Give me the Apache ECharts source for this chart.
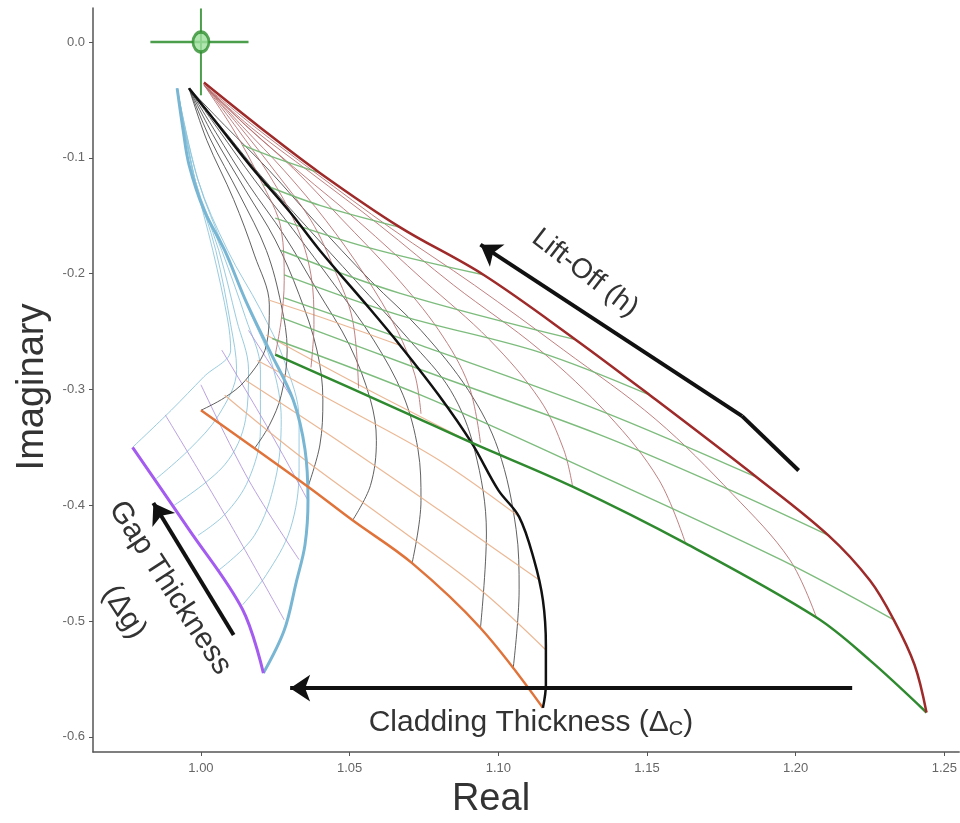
<!DOCTYPE html>
<html>
<head>
<meta charset="utf-8">
<script src="https://cdn.jsdelivr.net/npm/echarts@6/dist/echarts.min.js"></script>
<style>
  html, body { margin: 0; padding: 0; background: #fff; }
  #main { width: 960px; height: 823px; }
</style>
</head>
<body>
<div id="main"></div>
<script>
// tick positions
var xTicks = [1.00, 1.05, 1.10, 1.15, 1.20, 1.25];
var yTicks = [0.0, -0.1, -0.2, -0.3, -0.4, -0.5, -0.6];

// --- lift-off / cladding grid (red + green) ---
var redOuter = [[1.001,-0.035],[1.020,-0.074],[1.040,-0.113],[1.067,-0.160],[1.095,-0.201],[1.126,-0.257],[1.151,-0.305],[1.187,-0.376],[1.211,-0.426],[1.225,-0.465],[1.233,-0.499],[1.240,-0.538],[1.244,-0.579]];
var greenThick = [[1.025,-0.270],[1.067,-0.318],[1.091,-0.346],[1.125,-0.384],[1.163,-0.433],[1.207,-0.497],[1.225,-0.534],[1.244,-0.579]];
var redArcs = [
  [[1.001,-0.037],[1.018,-0.073],[1.038,-0.112],[1.064,-0.161],[1.092,-0.210],[1.122,-0.266],[1.153,-0.326],[1.179,-0.391],[1.198,-0.447],[1.207,-0.497]],
  [[1.001,-0.037],[1.017,-0.074],[1.037,-0.113],[1.060,-0.158],[1.085,-0.210],[1.114,-0.266],[1.137,-0.322],[1.154,-0.378],[1.163,-0.433]],
  [[1.001,-0.037],[1.016,-0.074],[1.033,-0.112],[1.053,-0.155],[1.075,-0.206],[1.097,-0.257],[1.114,-0.309],[1.122,-0.352],[1.125,-0.384]],
  [[1.001,-0.037],[1.015,-0.072],[1.031,-0.109],[1.047,-0.152],[1.065,-0.201],[1.080,-0.249],[1.090,-0.296],[1.094,-0.346]],
  [[1.001,-0.037],[1.014,-0.073],[1.028,-0.111],[1.042,-0.154],[1.055,-0.201],[1.066,-0.249],[1.072,-0.288],[1.074,-0.321]],
  [[1.001,-0.037],[1.013,-0.073],[1.025,-0.112],[1.037,-0.154],[1.045,-0.197],[1.051,-0.240],[1.053,-0.299]],
  [[1.001,-0.037],[1.012,-0.074],[1.023,-0.115],[1.032,-0.158],[1.037,-0.201],[1.038,-0.244],[1.037,-0.281]],
  [[1.001,-0.037],[1.011,-0.076],[1.020,-0.119],[1.027,-0.162],[1.028,-0.206],[1.027,-0.240],[1.025,-0.270]]
];
var greenLines = [
  [[1.024,-0.256],[1.074,-0.305],[1.134,-0.374],[1.195,-0.447],[1.233,-0.499]],
  [[1.027,-0.238],[1.074,-0.283],[1.134,-0.339],[1.178,-0.387],[1.211,-0.426]],
  [[1.028,-0.221],[1.074,-0.262],[1.134,-0.318],[1.187,-0.376]],
  [[1.028,-0.201],[1.067,-0.236],[1.114,-0.268],[1.151,-0.305]],
  [[1.027,-0.180],[1.067,-0.217],[1.126,-0.257]],
  [[1.025,-0.152],[1.057,-0.178],[1.095,-0.201]],
  [[1.021,-0.123],[1.040,-0.141],[1.067,-0.160]],
  [[1.014,-0.089],[1.025,-0.100],[1.040,-0.113]]
];

// --- black + orange grid ---
var blackThick = [[0.996,-0.040],[1.005,-0.069],[1.017,-0.108],[1.030,-0.147],[1.040,-0.180],[1.057,-0.231],[1.067,-0.262],[1.080,-0.305],[1.091,-0.346],[1.100,-0.387],[1.107,-0.410],[1.112,-0.447],[1.115,-0.482],[1.116,-0.521],[1.116,-0.555],[1.115,-0.575]];
var orangeThick = [[1.000,-0.318],[1.036,-0.384],[1.051,-0.413],[1.071,-0.450],[1.094,-0.506],[1.115,-0.575]];
var blackArcs = [
  [[0.996,-0.040],[1.008,-0.072],[1.023,-0.111],[1.038,-0.154],[1.057,-0.206],[1.074,-0.249],[1.090,-0.301],[1.100,-0.352],[1.106,-0.421],[1.107,-0.473],[1.105,-0.541]],
  [[0.996,-0.040],[1.007,-0.074],[1.020,-0.115],[1.035,-0.158],[1.052,-0.206],[1.070,-0.257],[1.084,-0.301],[1.092,-0.352],[1.096,-0.424],[1.094,-0.506]],
  [[0.996,-0.040],[1.006,-0.076],[1.018,-0.119],[1.031,-0.162],[1.045,-0.210],[1.058,-0.257],[1.068,-0.305],[1.073,-0.352],[1.074,-0.396],[1.071,-0.450]],
  [[0.996,-0.040],[1.005,-0.078],[1.016,-0.123],[1.028,-0.167],[1.039,-0.214],[1.050,-0.262],[1.057,-0.309],[1.059,-0.344],[1.057,-0.383],[1.051,-0.413]],
  [[0.996,-0.040],[1.004,-0.080],[1.015,-0.128],[1.025,-0.171],[1.033,-0.218],[1.039,-0.266],[1.041,-0.309],[1.040,-0.348],[1.036,-0.384]],
  [[0.996,-0.040],[1.003,-0.083],[1.013,-0.132],[1.022,-0.180],[1.027,-0.227],[1.029,-0.266],[1.027,-0.305],[1.023,-0.331],[1.018,-0.351]],
  [[0.996,-0.040],[1.002,-0.085],[1.011,-0.136],[1.018,-0.184],[1.023,-0.227],[1.022,-0.262],[1.015,-0.292],[1.008,-0.307],[1.000,-0.318]]
];
var orangeLines = [
  [[1.008,-0.305],[1.033,-0.357],[1.067,-0.421],[1.094,-0.473],[1.116,-0.525]],
  [[1.015,-0.292],[1.043,-0.339],[1.080,-0.404],[1.114,-0.465]],
  [[1.019,-0.275],[1.050,-0.318],[1.080,-0.361],[1.107,-0.410]],
  [[1.022,-0.253],[1.053,-0.296],[1.091,-0.346]],
  [[1.023,-0.223],[1.043,-0.240],[1.067,-0.262]]
];

// --- blue + purple grid ---
var blueThick = [[0.992,-0.040],[0.994,-0.076],[0.996,-0.106],[1.001,-0.145],[1.008,-0.180],[1.015,-0.223],[1.023,-0.266],[1.031,-0.309],[1.035,-0.352],[1.036,-0.396],[1.035,-0.434],[1.032,-0.467],[1.028,-0.508],[1.021,-0.545]];
var purpleThick = [[1.021,-0.545],[1.014,-0.490],[0.996,-0.421],[0.977,-0.350]];
var blueArcs = [
  [[0.992,-0.040],[0.999,-0.119],[1.009,-0.180],[1.020,-0.231],[1.028,-0.275],[1.033,-0.326],[1.033,-0.370],[1.030,-0.421],[1.022,-0.460],[1.014,-0.486]],
  [[0.992,-0.040],[0.999,-0.119],[1.008,-0.180],[1.017,-0.236],[1.024,-0.279],[1.027,-0.326],[1.025,-0.378],[1.018,-0.426],[1.006,-0.456]],
  [[0.992,-0.040],[0.998,-0.119],[1.007,-0.180],[1.015,-0.238],[1.020,-0.283],[1.020,-0.335],[1.016,-0.378],[1.008,-0.408],[0.999,-0.426]],
  [[0.992,-0.040],[0.998,-0.119],[1.006,-0.180],[1.012,-0.240],[1.016,-0.283],[1.015,-0.326],[1.008,-0.365],[0.991,-0.400]],
  [[0.992,-0.040],[0.998,-0.119],[1.005,-0.180],[1.010,-0.244],[1.012,-0.283],[1.006,-0.322],[0.996,-0.352],[0.985,-0.377]],
  [[0.992,-0.040],[0.998,-0.119],[1.004,-0.180],[1.009,-0.240],[1.010,-0.266],[1.001,-0.289],[0.990,-0.318],[0.977,-0.350]]
];
var purpleLines = [
  [[1.036,-0.396],[1.022,-0.331],[1.007,-0.266]],
  [[1.033,-0.447],[1.016,-0.378],[1.000,-0.296]],
  [[1.031,-0.309],[1.016,-0.249]],
  [[1.028,-0.499],[1.008,-0.408],[0.988,-0.322]]
];

// --- air point crosshair ---
var airPoint = [[1.000, 0.000]];
var crossH = [[0.983, 0.000], [1.016, 0.000]];
var crossV = [[1.000, 0.029], [1.000, -0.046]];

// --- arrows (tail first, head last) ---
var liftArrow = [[1.201,-0.370],[1.182,-0.323],[1.094,-0.175]];
var gapArrow = [[1.011,-0.512],[0.984,-0.398]];
var cladArrow = [[1.219,-0.558],[1.030,-0.558]];

var myChart = echarts.init(document.getElementById('main'));

function curve(data, color, width, z, opacity) {
    return {
        type: 'line',
        data: data,
        symbol: 'none',
        smooth: 0.35,
        silent: true,
        z: z,
        lineStyle: { color: color, width: width, opacity: opacity == null ? 1 : opacity }
    };
}

var series = [];
blueArcs.forEach(function (c) { series.push(curve(c, '#8ec5dc', 1, 2, 0.9)); });
purpleLines.forEach(function (c) { series.push(curve(c, '#a98ad8', 1, 2, 0.8)); });
blackArcs.forEach(function (c) { series.push(curve(c, '#444', 1, 3, 0.85)); });
orangeLines.forEach(function (c) { series.push(curve(c, '#e9b08a', 1.2, 3, 0.9)); });
redArcs.forEach(function (c) { series.push(curve(c, '#b56a6a', 1, 4, 0.85)); });
greenLines.forEach(function (c) { series.push(curve(c, '#6fb56f', 1.4, 4, 0.9)); });

series.push(curve(blueThick, '#79b6d3', 3, 6));
series.push(curve(purpleThick, '#a45cf0', 3, 6));
series.push(curve(orangeThick, '#e0733a', 2.5, 6));
series.push(curve(blackThick, '#111', 2.5, 7));
series.push(curve(greenThick, '#2f8a2f', 2.5, 7));
series.push(curve(redOuter, '#9e2a2a', 2.5, 7));

series.push({ type: 'line', data: crossH, symbol: 'none', silent: true, z: 8,
    lineStyle: { color: '#4c9e4c', width: 2.5 } });
series.push({ type: 'line', data: crossV, symbol: 'none', silent: true, z: 8,
    lineStyle: { color: '#4c9e4c', width: 2 } });
series.push({ type: 'scatter', data: airPoint, symbol: 'circle', symbolSize: [16, 20], silent: true, z: 9,
    itemStyle: { color: '#9ee09e', borderColor: '#2f8f2f', borderWidth: 3 } });

// arrow shaft without head
series.push({
    type: 'lines',
    coordinateSystem: 'cartesian2d',
    silent: true,
    z: 10,
    symbol: 'none',
    lineStyle: { color: '#111', width: 4, opacity: 1 },
    data: [{ coords: [liftArrow[0], liftArrow[1]] }]
});
// arrow segments with heads
series.push({
    type: 'lines',
    coordinateSystem: 'cartesian2d',
    silent: true,
    z: 10,
    symbol: ['none', 'arrow'],
    symbolSize: 20,
    lineStyle: { color: '#111', width: 4, opacity: 1 },
    data: [
        { coords: [liftArrow[1], liftArrow[2]] },
        { coords: [gapArrow[0], gapArrow[1]] },
        { coords: [cladArrow[0], cladArrow[1]] }
    ]
});

var option = {
    backgroundColor: '#fff',
    animation: false,
    grid: { left: 93, top: 8, right: 0, bottom: 71 },
    xAxis: {
        type: 'value',
        min: 0.9637,
        max: 1.255,
        splitLine: { show: false },
        axisLine: { onZero: false, lineStyle: { color: '#555', width: 1.5 } },
        axisTick: { show: true, length: 4, customValues: xTicks, lineStyle: { color: '#555' } },
        axisLabel: {
            customValues: xTicks,
            margin: 10,
            fontSize: 13,
            color: '#666',
            fontFamily: 'Liberation Sans Narrow, Liberation Sans',
            formatter: function (v) { return v.toFixed(2); }
        }
    },
    yAxis: {
        type: 'value',
        min: -0.6131,
        max: 0.0294,
        splitLine: { show: false },
        axisLine: { show: true, onZero: false, lineStyle: { color: '#555', width: 1.5 } },
        axisTick: { show: true, length: 4, customValues: yTicks, lineStyle: { color: '#555' } },
        axisLabel: {
            customValues: yTicks,
            margin: 8,
            fontSize: 13,
            color: '#666',
            fontFamily: 'Liberation Sans Narrow, Liberation Sans',
            formatter: function (v) { return v.toFixed(1); }
        }
    },
    graphic: [
        { type: 'text', x: 491, y: 800,
          style: { text: 'Real', fontSize: 38, fill: '#333', fontFamily: 'Liberation Sans',
                   align: 'center', verticalAlign: 'middle' } },
        { type: 'text', x: 33, y: 387, rotation: Math.PI / 2,
          style: { text: 'Imaginary', fontSize: 38, fill: '#333', fontFamily: 'Liberation Sans',
                   align: 'center', verticalAlign: 'middle' } },
        { type: 'text', x: 585, y: 273, rotation: -37.5 * Math.PI / 180,
          style: { text: 'Lift-Off (h)', fontSize: 28, fill: '#333', fontFamily: 'Liberation Sans',
                   align: 'center', verticalAlign: 'middle' } },
        { type: 'text', x: 170, y: 588, rotation: -57 * Math.PI / 180,
          style: { text: 'Gap Thickness', fontSize: 30, fill: '#333', fontFamily: 'Liberation Sans',
                   align: 'center', verticalAlign: 'middle' } },
        { type: 'text', x: 124, y: 612, rotation: -57 * Math.PI / 180,
          style: { text: '(Δg)', fontSize: 30, fill: '#333', fontFamily: 'Liberation Sans',
                   align: 'center', verticalAlign: 'middle' } },
        { type: 'text', x: 531, y: 723,
          style: { text: '{m|Cladding Thickness (Δ}{s|C}{m|)}', fill: '#333',
                   align: 'center', verticalAlign: 'middle',
                   rich: {
                       m: { fontSize: 30, fill: '#333', fontFamily: 'Liberation Sans' },
                       s: { fontSize: 20, fill: '#333', fontFamily: 'Liberation Sans', padding: [12, 0, 0, 0] }
                   } } }
    ],
    series: series
};

myChart.setOption(option);
</script>
</body>
</html>
